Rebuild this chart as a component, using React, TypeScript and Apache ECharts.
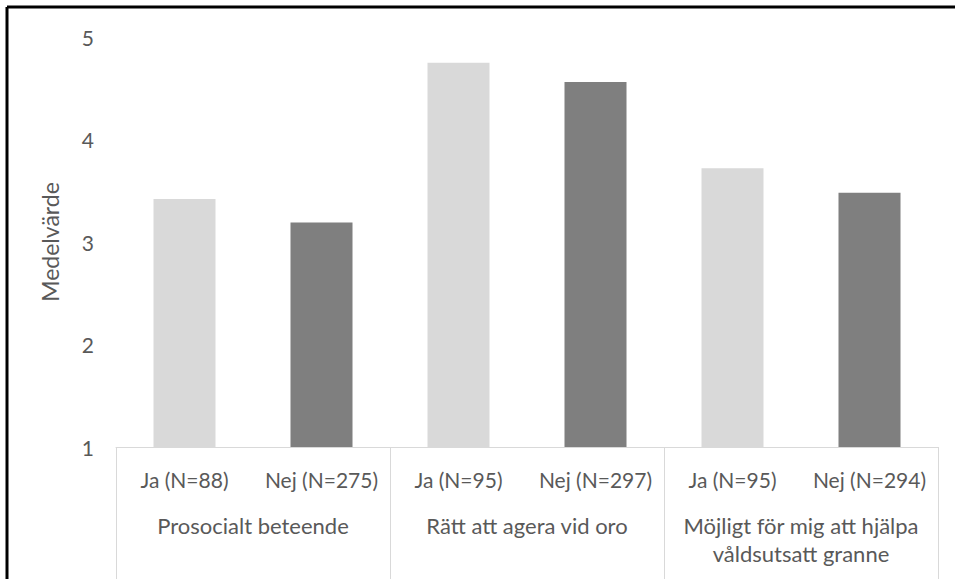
import React, { useEffect, useRef } from "react";
import * as echarts from "echarts";

const categories = ["Ja (N=88)", "Nej (N=275)", "Ja (N=95)", "Nej (N=297)", "Ja (N=95)", "Nej (N=294)"];
const groups = ["Prosocialt beteende", "Rätt att agera vid oro", "Möjligt för mig att hjälpa\nvåldsutsatt granne"];
const values = [3.42, 3.19, 4.75, 4.56, 3.72, 3.48];
const barColors = ["#d9d9d9", "#7f7f7f", "#d9d9d9", "#7f7f7f", "#d9d9d9", "#7f7f7f"];
const yTicks = [1, 2, 3, 4, 5];

const FONT = "Lato";
const TEXT = "#595959";

export default function App() {
  const ref = useRef<HTMLDivElement>(null);
  useEffect(() => {
    if (!ref.current) return;
    const chart = echarts.init(ref.current, undefined, { renderer: "svg" });
    chart.setOption({
      animation: false,
      backgroundColor: "#ffffff",
      grid: { left: 116, right: 17, top: 37, bottom: 132, containLabel: false },
      xAxis: [
        {
          type: "category",
          data: categories,
          position: "bottom",
          axisLine: { show: true, lineStyle: { color: "#d9d9d9", width: 1 } },
          axisTick: { show: false },
          axisLabel: { interval: 0, color: TEXT, fontFamily: FONT, fontSize: 21, margin: 20, lineHeight: 24 },
        },
        {
          type: "category",
          data: groups,
          position: "bottom",
          offset: 0,
          axisLine: { show: false },
          axisTick: { show: true, interval: 0, length: 132, lineStyle: { color: "#d9d9d9", width: 1 } },
          axisLabel: { interval: 0, color: TEXT, fontFamily: FONT, fontSize: 22, margin: 64, lineHeight: 28 },
        },
      ],
      yAxis: {
        type: "value",
        min: yTicks[0],
        max: yTicks[yTicks.length - 1],
        interval: 1,
        name: "Medelvärde",
        nameLocation: "middle",
        nameGap: 55,
        nameRotate: 90,
        nameTextStyle: { color: TEXT, fontFamily: FONT, fontSize: 23 },
        axisLine: { show: false },
        axisTick: { show: false },
        splitLine: { show: false },
        axisLabel: { color: TEXT, fontFamily: FONT, fontSize: 21, margin: 22 },
      },
      graphic: [
        { type: "line", shape: { x1: 7, y1: 7, x2: 955, y2: 7 }, style: { stroke: "#000", lineWidth: 3 } },
        { type: "line", shape: { x1: 7, y1: 7, x2: 7, y2: 579 }, style: { stroke: "#000", lineWidth: 3 } },
      ],
      series: [
        {
          type: "bar",
          xAxisIndex: 0,
          barWidth: 62,
          data: values.map((v, i) => ({ value: v, itemStyle: { color: barColors[i] } })),
        },
      ],
    });
    return () => chart.dispose();
  }, []);
  return <div ref={ref} style={{ position: "absolute", left: 0, top: 0, width: 955, height: 579 }} />;
}
